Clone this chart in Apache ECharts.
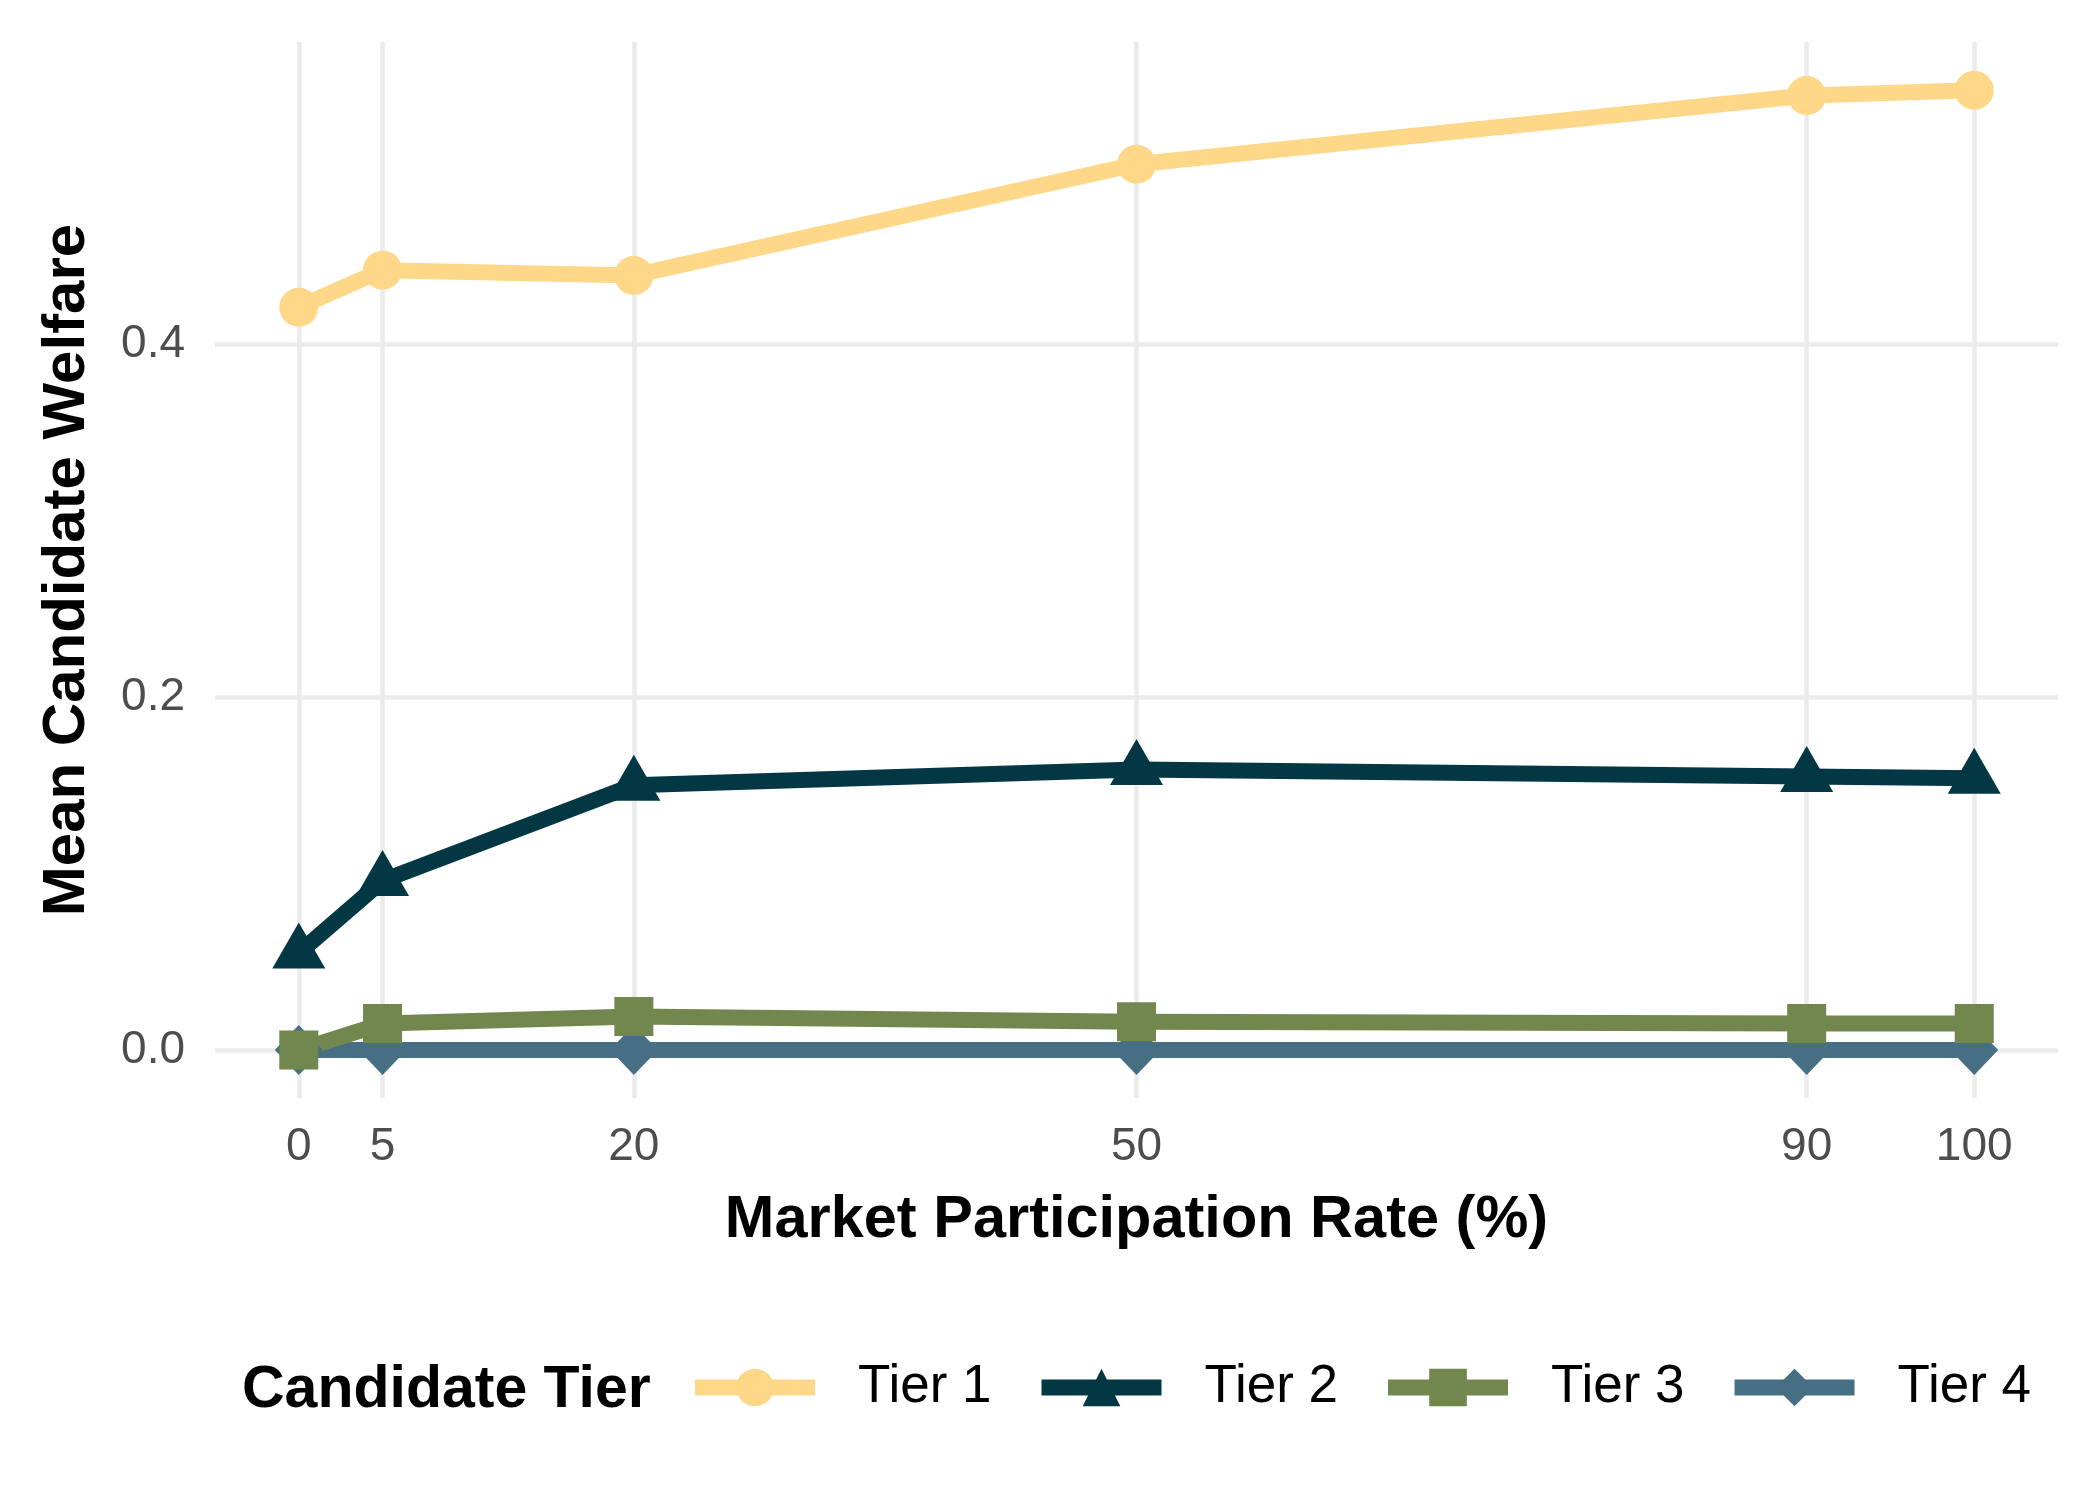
<!DOCTYPE html>
<html>
<head>
<meta charset="utf-8">
<script src="https://cdn.jsdelivr.net/npm/echarts@6/dist/echarts.min.js"></script>
<style>
html,body{margin:0;padding:0;background:#fff;}
#chart{width:2100px;height:1500px;}
</style>
</head>
<body>
<div id="chart"></div>
<script>
const participation = [0, 5, 20, 50, 90, 100];
const tierNames = ['Tier 1', 'Tier 2', 'Tier 3', 'Tier 4'];
const tier1 = [0.421, 0.442, 0.439, 0.502, 0.541, 0.544];
const tier2 = [0.055, 0.096, 0.150, 0.159, 0.155, 0.154];
const tier3 = [0.000, 0.015, 0.019, 0.016, 0.015, 0.015];
const tier4 = [0.000, 0.000, 0.000, 0.000, 0.000, 0.000];
const xTicks = [0, 5, 20, 50, 90, 100];
const yTicks = [0.0, 0.2, 0.4];

const colors = ['#FED789', '#023743', '#72874E', '#476F84'];
const FONT = '"Liberation Sans", Arial, Helvetica, sans-serif';

function pairs(vals) { return participation.map((x, i) => [x, vals[i]]); }

const seriesDefs = [
  { name: 'Tier 4', data: tier4, color: colors[3], symbol: 'diamond', size: [48, 50], offset: [0, 0] },
  { name: 'Tier 3', data: tier3, color: colors[2], symbol: 'rect', size: 39, offset: [0, 0] },
  { name: 'Tier 2', data: tier2, color: colors[1], symbol: 'triangle', size: [53, 46], offset: [0, -7.5] },
  { name: 'Tier 1', data: tier1, color: colors[0], symbol: 'circle', size: 39, offset: [0, 0] }
];

const chart = echarts.init(document.getElementById('chart'), null, { renderer: 'canvas' });
chart.setOption({
  animation: false,
  backgroundColor: '#ffffff',
  grid: { left: 215, right: 42, top: 42, bottom: 402 },
  xAxis: {
    type: 'value',
    min: -5, max: 105,
    name: 'Market Participation Rate (%)',
    nameLocation: 'middle',
    nameGap: 93,
    nameTextStyle: { fontFamily: FONT, fontSize: 59.5, fontWeight: 'bold', color: '#000' },
    axisLine: { show: false },
    axisTick: { show: false, customValues: xTicks },
    axisLabel: { customValues: xTicks, fontFamily: FONT, fontSize: 46, color: '#4D4D4D', margin: 26 },
    splitLine: { show: true, lineStyle: { color: '#EBEBEB', width: 4.5 } }
  },
  yAxis: {
    type: 'value',
    min: -0.0272, max: 0.5713,
    name: 'Mean Candidate Welfare',
    nameLocation: 'middle',
    nameGap: 118,
    nameTextStyle: { fontFamily: FONT, fontSize: 60, fontWeight: 'bold', color: '#000' },
    axisLine: { show: false },
    axisTick: { show: false, customValues: yTicks },
    axisLabel: { customValues: yTicks, fontFamily: FONT, fontSize: 46, color: '#4D4D4D', margin: 30,
      formatter: v => v.toFixed(1) },
    splitLine: { show: true, lineStyle: { color: '#EBEBEB', width: 4.5 } }
  },
  legend: {
    data: tierNames,
    orient: 'horizontal',
    left: 687,
    top: 1361,
    padding: 0,
    itemWidth: 120,
    itemHeight: 47,
    itemGap: 42,
    lineStyle: { width: 16 },
    textStyle: { fontFamily: FONT, fontSize: 53, color: '#000', padding: [0, 0, 0, 38] },
    selectedMode: false
  },
  graphic: [{
    type: 'text',
    left: 242,
    top: 1383 - 22,
    style: { text: 'Candidate Tier', font: 'bold 59px ' + FONT, fill: '#000' }
  }],
  series: seriesDefs.map(s => ({
    name: s.name,
    type: 'line',
    data: pairs(s.data),
    symbol: s.symbol,
    symbolSize: s.size,
    symbolOffset: s.offset,
    showSymbol: true,
    lineStyle: { color: s.color, width: 16, join: 'round', cap: 'butt' },
    itemStyle: { color: s.color, borderWidth: 0 },
    emphasis: { disabled: true }
  }))
});
</script>
</body>
</html>
